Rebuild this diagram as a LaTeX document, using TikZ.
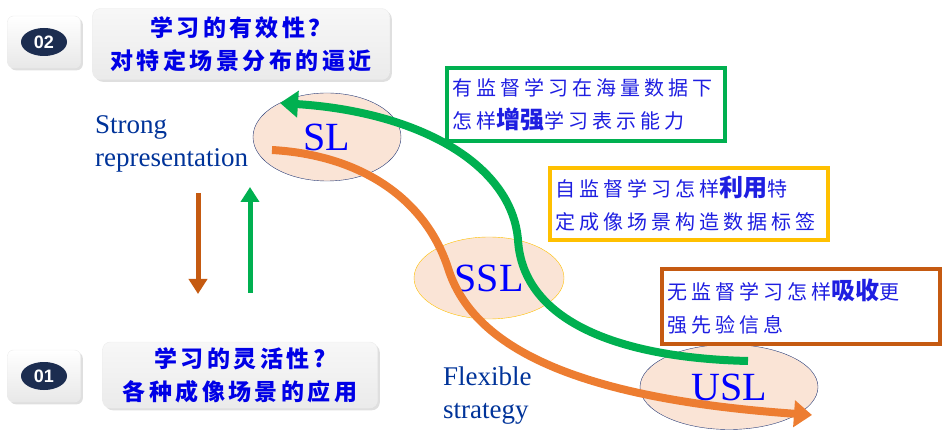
\documentclass[tikz,border=0pt]{standalone}
\usepackage{fontspec}
\setmainfont{Liberation Serif}
\setsansfont{Liberation Sans}
\newfontfamily\cjk{Noto Sans CJK SC}
\usetikzlibrary{arrows.meta,shadows,shapes.geometric}

\definecolor{titleblue}{RGB}{0,0,230}
\definecolor{textblue}{RGB}{30,30,225}
\definecolor{navy}{RGB}{0,51,153}
\definecolor{rimnavy}{RGB}{40,60,120}
\definecolor{badgenavy}{RGB}{28,45,80}
\definecolor{peach}{RGB}{250,228,214}
\definecolor{slgreen}{RGB}{0,176,80}
\definecolor{flexorange}{RGB}{237,125,49}
\definecolor{rust}{RGB}{197,90,17}
\definecolor{gold}{RGB}{255,192,0}

\tikzset{
  badge/.style={rounded corners=6pt, top color=white, bottom color=gray!18,
    draw=gray!15, drop shadow={opacity=0.25}, minimum width=73pt, minimum height=52pt},
  badgeinner/.style={ellipse, fill=badgenavy, text=white, font=\sffamily\bfseries\fontsize{18}{18}\selectfont,
    minimum width=46pt, minimum height=28pt, inner sep=0pt},
  titlebox/.style={rounded corners=8pt, top color=gray!6, bottom color=gray!16, draw=gray!15,
    drop shadow={opacity=0.25}, align=center, text=titleblue,
    font=\cjk\bfseries\addfontfeatures{LetterSpace=15}\fontsize{23}{33}\selectfont},
  learn/.style={ellipse, fill=peach, text=blue, font=\fontsize{40}{40}\selectfont, inner sep=0pt},
  notebox/.style={draw, line width=4pt, fill=white, align=left, text=textblue, inner xsep=5pt, inner ysep=4pt,
    text width=268pt, font=\cjk\addfontfeatures{LetterSpace=20}\fontsize{20}{33}\selectfont},
  sidetext/.style={align=left, text=navy, font=\fontsize{27}{33}\selectfont},
  bigarrow/.style={line width=8pt, -{Triangle[length=18pt,width=26pt]}},
  smallarrow/.style={line width=5pt, -{Triangle[length=15pt,width=18pt]}}
}
\newcommand{\strongch}[1]{{\addfontfeatures{LetterSpace=0}\fontsize{24}{33}\selectfont\bfseries #1}}

\begin{document}
\begin{tikzpicture}[x=1pt, y=-1pt]
  \useasboundingbox (0,0) rectangle (947,435);

  % badges and questions
  \node[badge] (b2) at (44,42) {};
  \node[badgeinner] (n2) at (b2) {02};
  \node[titlebox, minimum width=297pt, minimum height=71pt] (q2) at (241,44)
    {学习的有效性？\\对特定场景分布的逼近};
  \node[badge] (b1) at (44,376) {};
  \node[badgeinner] (n1) at (b1) {01};
  \node[titlebox, minimum width=275pt, minimum height=66pt] (q1) at (240,375)
    {学习的灵活性?\\各种成像场景的应用};

  % side labels
  \node[sidetext, anchor=base west, inner sep=0pt] (strong) at (95,167) {Strong\\representation};
  \node[sidetext, anchor=base west, inner sep=0pt] (flex) at (443,418) {Flexible\\strategy};

  % learning settings
  \node[learn, draw=rimnavy, minimum width=148pt, minimum height=88pt] (sl) at (327,137) {SL};
  \node[learn, draw=gold, minimum width=150pt, minimum height=82pt] (ssl) at (489,278) {SSL};
  \node[learn, draw=rimnavy, minimum width=178pt, minimum height=85pt] (usl) at (729,387) {USL};

  % notes
  \node[notebox, draw=slgreen, anchor=north west, minimum height=73pt] (gnote) at (445,66)
    {有监督学习在海量数据下\\怎样\strongch{增强}学习表示能力};
  \node[notebox, draw=gold, anchor=north west, minimum height=72pt] (ynote) at (548,166)
    {自监督学习怎样\strongch{利用}特\\定成像场景构造数据标签};
  \node[notebox, draw=rust, anchor=north west, minimum height=75pt] (rnote) at (660,267)
    {无监督学习怎样\strongch{吸收}更\\强先验信息};

  % small arrows
  \coordinate (dtop) at (198,193);
  \coordinate (dbot) at (198,294);
  \coordinate (utop) at (250,187);
  \coordinate (ubot) at (250,293);
  \draw[smallarrow, rust] (dtop) -- (dbot);
  \draw[smallarrow, slgreen] (ubot) -- (utop);

  % big curves
  \coordinate (gs) at (748,361);
  \coordinate (gm) at (518,240);
  \coordinate (ge) at (280,103);
  \draw[bigarrow, slgreen] (gs) .. controls (620,358) and (523,322) .. (gm)
    .. controls (512,165) and (420,112) .. (ge);
  \coordinate (os) at (272,150);
  \coordinate (om) at (448,268);
  \coordinate (oe) at (812,415);
  \draw[bigarrow, flexorange] (os) .. controls (360,155) and (425,198) .. (om)
    .. controls (472,345) and (570,398) .. (oe);
\end{tikzpicture}
\end{document}
